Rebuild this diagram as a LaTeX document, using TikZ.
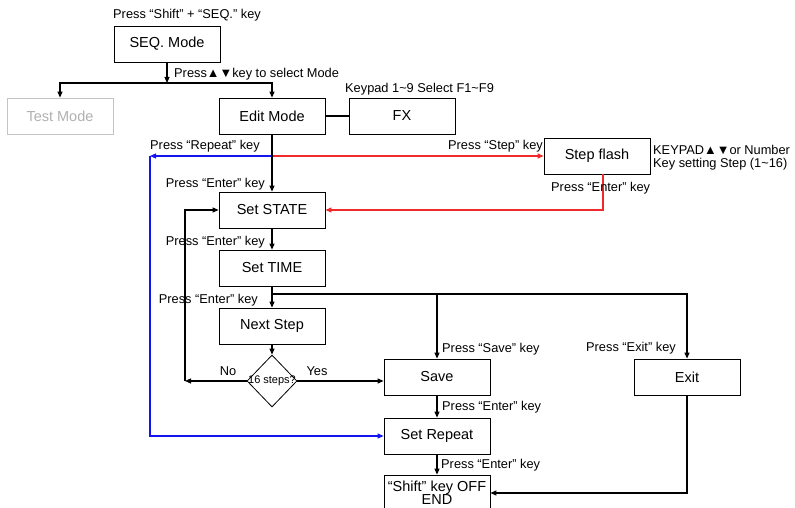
\documentclass[tikz,border=0pt]{standalone}
\usepackage{fontspec}
\setmainfont{Liberation Sans}
\usetikzlibrary{shapes.geometric, arrows.meta, positioning, calc}
\definecolor{clrRepeat}{HTML}{1414F0}
\definecolor{clrStep}{HTML}{F02A2A}
\definecolor{clrOff}{HTML}{C4C4C4}

\begin{document}
\begin{tikzpicture}[x=1pt, y=-1pt,
    box/.style={rectangle, draw=black, minimum width=106pt, minimum height=36pt, align=center, font=\fontsize{14.5}{16}\selectfont, line width=0.8pt, inner sep=1pt},
    offbox/.style={box, draw=clrOff, text=clrOff!90!black},
    decision/.style={diamond, draw=black, minimum width=50pt, minimum height=52pt, inner sep=0pt, line width=0.8pt},
    lbl/.style={font=\fontsize{12.8}{13}\selectfont, inner sep=0pt},
    smalllbl/.style={font=\fontsize{11}{12}\selectfont, inner sep=0pt},
    arrow/.style={-{Triangle[length=6pt, width=5pt]}, line width=1.1pt},
    plain/.style={line width=1.1pt},
    repeatarrow/.style={arrow, clrRepeat},
    steparrow/.style={arrow, clrStep},
]
\useasboundingbox (0,0) rectangle (795,508);

\node[box] (seq) at (167,44) {SEQ. Mode};
\node[offbox] (test) at (60,116) {Test Mode};
\node[box] (edit) at (272,116) {Edit Mode};
\node[box] (fx) at (402,116) {FX};
\node[box] (flash) at (597,156) {Step flash};
\node[box] (state) at (272,210) {Set STATE};
\node[box] (time) at (272,268) {Set TIME};
\node[box] (next) at (272,326) {Next Step};
\node[decision] (dia) at (272,381) {};
\node[smalllbl] (dialbl) at (dia) {16 steps?};
\node[box] (save) at (437,377) {Save};
\node[box] (exit) at (687,377) {Exit};
\node[box] (repeat) at (437,436) {Set Repeat};
\node[box] (finish) at (437,493) {“Shift” key OFF\\[-3pt]END};

% junctions
\coordinate (split) at (167,83);
\coordinate (rj) at (272,156);
\coordinate (rcorner) at (150,156);
\coordinate (tj) at (272,294);
\coordinate (nocorner) at (185,381);

% mode selection
\draw[arrow] (seq.south) -- (split);
\draw[arrow] (split) -| (test.north);
\draw[arrow] (split) -| (edit.north);
\draw[plain] (edit.east) -- (fx.west);

% repeat / step branches
\draw[repeatarrow] (rj) -- (rcorner);
\draw[repeatarrow] (rcorner) |- (repeat.west);
\draw[steparrow] (rj) -- (flash.west);
\draw[steparrow] ([xshift=6pt]flash.south) |- (state.east);

% main column
\draw[arrow] (edit.south) -- (state.north);
\draw[arrow] (state) -- (time);
\draw[arrow] (time.south) -- (next.north);
\draw[arrow] (tj) -| (exit.north);
\draw[arrow] (tj -| save.north) -- (save.north);
\draw[arrow] (next) -- (dia);
\draw[arrow] (dia.west) -- (nocorner);
\draw[arrow] (nocorner) |- (state.west);
\draw[arrow] (dia.east) -- (dia.east -| save.west);
\draw[arrow] (save) -- (repeat);
\draw[arrow] (repeat) -- (finish);
\draw[arrow] (exit.south) |- (finish.east);

% labels
\node[lbl, anchor=west] (lshift) at (113,15) {Press “Shift” + “SEQ.” key};
\node[lbl, anchor=west] (lsel) at (174,74) {Press▲▼key to select Mode};
\node[lbl, anchor=west] (lkeypad) at (345,89) {Keypad 1\textasciitilde9 Select F1\textasciitilde F9};
\node[lbl, anchor=west] (lrepeat) at (150,146) {Press “Repeat” key};
\node[lbl, anchor=east] (lstep) at (543,146) {Press “Step” key};
\node[lbl, anchor=west, align=left] (lkeys) at (653,157.5) {KEYPAD▲▼or Number\\Key setting Step (1\textasciitilde16)};
\node[lbl, anchor=west] (lflash) at (551,188) {Press “Enter” key};
\node[lbl, anchor=east] (lenter1) at (265,184) {Press “Enter” key};
\node[lbl, anchor=east] (lenter2) at (265,242) {Press “Enter” key};
\node[lbl, anchor=east] (lenter3) at (258,300) {Press “Enter” key};
\node[lbl] (lno) at (228,371) {No};
\node[lbl] (lyes) at (317,371) {Yes};
\node[lbl, anchor=west] (lsave) at (442,349) {Press “Save” key};
\node[lbl, anchor=west] (lenter4) at (442,407) {Press “Enter” key};
\node[lbl, anchor=west] (lenter5) at (441,465) {Press “Enter” key};
\node[lbl, anchor=east] (lexit) at (676,348) {Press “Exit” key};

\end{tikzpicture}
\end{document}
